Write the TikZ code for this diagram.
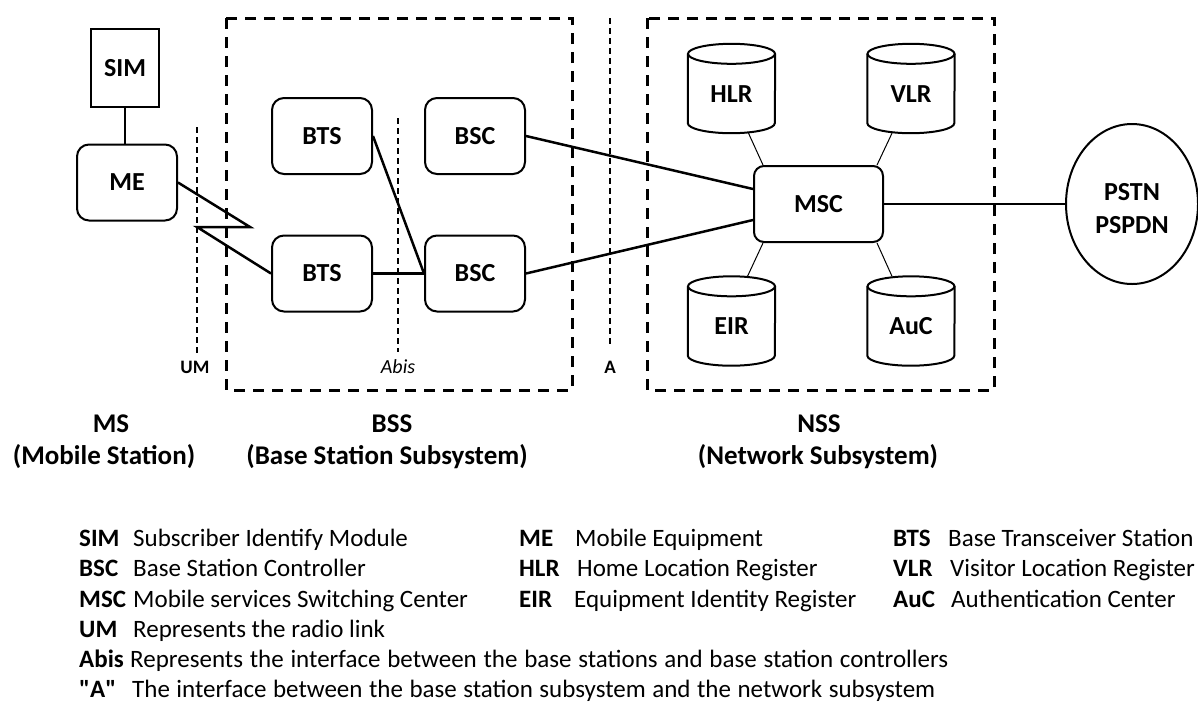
\documentclass[tikz,border=0pt]{standalone}
\usepackage{fontspec}
\setmainfont{Carlito}
\usetikzlibrary{shapes.geometric,calc}

% database cylinder drawn around a named node
\newcommand{\drawdb}[1]{%
  \draw[boxline] ([yshift=-10pt]#1.north west) -- ([yshift=10pt]#1.south west)
    arc[start angle=180,end angle=360,x radius=43.5pt,y radius=10pt]
    -- ([yshift=-10pt]#1.north east);
  \draw[boxline] ([yshift=-10pt]#1.north) ellipse [x radius=43.5pt,y radius=10pt];}

\begin{document}
\begin{tikzpicture}[x=1pt,y=-1pt,
  boxline/.style={line width=2pt},
  conn/.style={line width=2.5pt},
  thinconn/.style={line width=1pt},
  groupbox/.style={line width=3pt, dash pattern=on 11pt off 8pt},
  iface/.style={line width=1.5pt, dash pattern=on 6pt off 4pt},
  unit/.style={draw, line width=2pt, rounded corners=12pt, minimum width=100pt,
    minimum height=76pt, inner sep=0pt, font=\fontsize{26}{30}\selectfont\bfseries},
  db/.style={inner sep=0pt, minimum width=87pt, text height=58.3pt, text depth=30.7pt,
    font=\fontsize{26}{30}\selectfont\bfseries},
  grouplbl/.style={inner sep=0pt, font=\fontsize{27}{32}\selectfont\bfseries},
  ifacelbl/.style={inner sep=0pt, font=\fontsize{19}{22}\selectfont\bfseries},
  abbr/.style={anchor=base west, inner sep=0pt, font=\fontsize{25}{30}\selectfont\bfseries},
  desc/.style={anchor=base west, inner sep=0pt, font=\fontsize{25}{30}\selectfont}
]
\useasboundingbox (0,0) rectangle (1198,702);

% subsystem frames and interface lines
\draw[groupbox] (226,18) rectangle (572,390);
\draw[groupbox] (647,18) rectangle (994,390);
\draw[iface] (197,127) -- (197,353);
\draw[iface] (398,118) -- (398,352);
\draw[iface] (610,18) -- (610,345);
\node[ifacelbl] (um) at (195,367) {UM};
\node[ifacelbl, font=\fontsize{20}{22}\selectfont\itshape] (abis) at (398,367) {Abis};
\node[ifacelbl] (ia) at (610,367) {A};

% mobile station
\node[draw, line width=2pt, minimum width=68pt, minimum height=78pt, inner sep=0pt,
  font=\fontsize{26}{30}\selectfont\bfseries] (sim) at (125,68) {SIM};
\node[unit] (me) at (127,182.5) {ME};

% base station subsystem
\node[unit] (bts1) at (322,136) {BTS};
\node[unit] (bts2) at (322,273.5) {BTS};
\node[unit] (bsc1) at (475,136) {BSC};
\node[unit] (bsc2) at (475,273.5) {BSC};

% network subsystem
\node[unit, minimum width=129pt, rounded corners=10pt] (msc) at (818.5,204) {MSC};
\node[db] (hlr) at (731.5,88.5) {HLR};
\node[db] (vlr) at (911,88.5) {VLR};
\node[db] (eir) at (731.5,321) {EIR};
\node[db] (auc) at (911,321) {AuC};
\drawdb{hlr}\drawdb{vlr}\drawdb{eir}\drawdb{auc}

\node[ellipse, draw, line width=2pt, minimum width=132pt, minimum height=160pt,
  inner sep=0pt] (pstn) at (1132,204) {};
\node[align=center, inner sep=0pt, font=\fontsize{26}{33}\selectfont\bfseries]
  (pstntxt) at ([yshift=-5pt]pstn.center) {PSTN\\PSPDN};

% links
\draw[conn] (sim.south) -- (sim.south |- me.north);
\coordinate (z1) at (250,227);
\coordinate (z2) at (197,227);
\draw[conn, line join=miter] (me.east) -- (z1) -- (z2) -- (bts2.west);
\draw[conn] (bts1.east) -- (bsc2.west);
\draw[conn] (bts2.east) -- (bsc2.west);
\draw[conn] (bsc1.east) -- ([yshift=15pt]msc.west);
\draw[conn] (bsc2.east) -- ([yshift=-16pt]msc.west);
\draw[conn] (msc.east) -- (pstn.west);
\draw[thinconn] ([xshift=17pt]hlr.south) -- ([xshift=10pt]msc.north west);
\draw[thinconn] ([xshift=-19pt]vlr.south) -- ([xshift=-7pt]msc.north east);
\draw[thinconn] ([xshift=16pt]eir.north) -- ([xshift=10pt]msc.south west);
\draw[thinconn] ([xshift=-19pt]auc.north) -- ([xshift=-7pt]msc.south east);

% subsystem captions
\node[grouplbl] (msl) at (111,424) {MS};
\node[grouplbl] (msl2) at (104,457) {(Mobile Station)};
\node[grouplbl] (bssl) at (392,424) {BSS};
\node[grouplbl] (bssl2) at (387,457) {(Base Station Subsystem)};
\node[grouplbl] (nssl) at (819,424) {NSS};
\node[grouplbl] (nssl2) at (818,457) {(Network Subsystem)};

% legend
\node[abbr] (kSIM) at (79,546) {SIM};    \node[desc] (dSIM) at (133,546) {Subscriber Identify Module};
\node[abbr] (kME) at (519,546) {ME};     \node[desc] (dME) at (575,546) {Mobile Equipment};
\node[abbr] (kBTS) at (893,546) {BTS};   \node[desc] (dBTS) at (948,546) {Base Transceiver Station};
\node[abbr] (kBSC) at (79,576.5) {BSC};  \node[desc] (dBSC) at (133,576.5) {Base Station Controller};
\node[abbr] (kHLR) at (519,576.5) {HLR}; \node[desc] (dHLR) at (577,576.5) {Home Location Register};
\node[abbr] (kVLR) at (893,576.5) {VLR}; \node[desc] (dVLR) at (950,576.5) {Visitor Location Register};
\node[abbr] (kMSC) at (79,607) {MSC};    \node[desc] (dMSC) at (133,607) {Mobile services Switching Center};
\node[abbr] (kEIR) at (519,607) {EIR};   \node[desc] (dEIR) at (574,607) {Equipment Identity Register};
\node[abbr] (kAuC) at (893,607) {AuC};   \node[desc] (dAuC) at (951,607) {Authentication Center};
\node[abbr] (kUM) at (79,637) {UM};      \node[desc] (dUM) at (133,637) {Represents the radio link};
\node[abbr] (kAbis) at (79,667) {Abis};  \node[desc] (dAbis) at (130,667)
  {\makebox[818pt][s]{Represents the interface between the base stations and base station controllers}};
\node[abbr] (kA) at (79,697) {\textquotedbl A\textquotedbl};
\node[desc] (dA) at (132,697)
  {\makebox[803pt][s]{The interface between the base station subsystem and the network subsystem}};
\end{tikzpicture}
\end{document}
